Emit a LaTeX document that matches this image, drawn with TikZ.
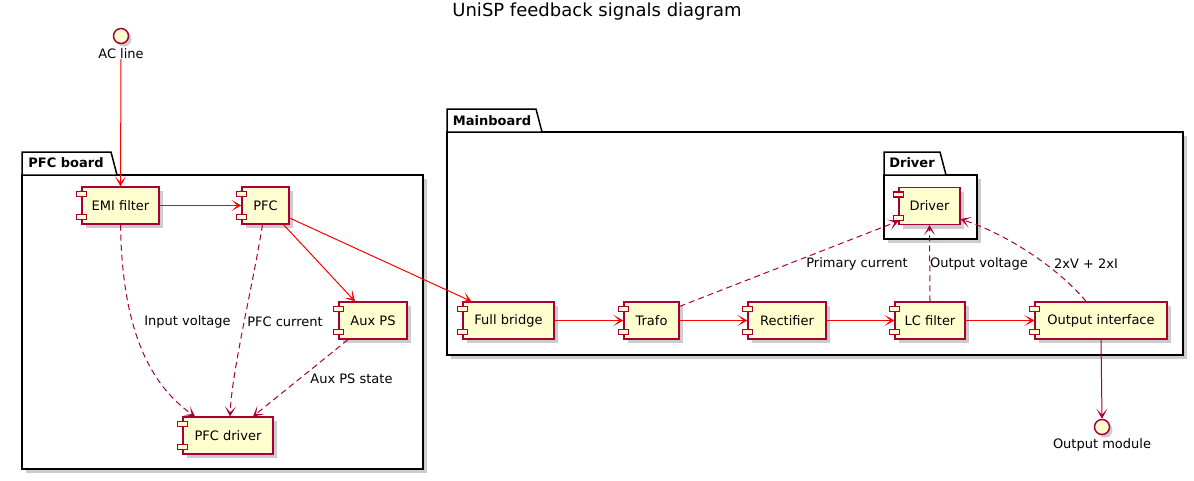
\documentclass[tikz,border=0pt]{standalone}
\usepackage{fontspec}
\setmainfont{DejaVu Sans}
\usetikzlibrary{arrows.meta}
\definecolor{plred}{HTML}{A80036}
\definecolor{plfill}{HTML}{FEFECE}
\definecolor{arrred}{HTML}{FF0000}
\tikzset{
 comp/.style={draw=plred, fill=plfill, line width=1.2pt, minimum height=37pt, inner sep=0pt, font=\fontsize{13}{16}\selectfont},
 compsmall/.style={draw=plred, fill=plfill, line width=1.2pt},
 shadowbox/.style={fill=black!20, draw=none},
 pkg/.style={draw=black, line width=1.5pt, fill=white},
 pkglbl/.style={font=\bfseries\fontsize{13}{16}\selectfont, inner sep=0pt},
 lbl/.style={font=\fontsize{13}{16}\selectfont, inner sep=0pt},
 tip/.style={-{Stealth[length=10pt,width=11pt,inset=6pt]}},
 flow/.style={draw=arrred, line width=1pt, tip},
 sig/.style={draw=plred, line width=1pt, dash pattern=on 6pt off 4pt, tip},
 link/.style={draw=plred, line width=1pt, tip},
 iface/.style={circle, draw=plred, fill=plfill, line width=1.5pt, minimum size=15pt, inner sep=0pt},
}
\newcommand{\umlcomp}[5]{%
 \fill[shadowbox] (#2-#4/2+4, #3-18.5+4) rectangle (#2+#4/2+4, #3+18.5+4);
 \node[comp, minimum width=#4pt] (#1) at (#2,#3) {#5};
 \draw[compsmall] ([xshift=-5pt,yshift=-5pt]#1.north west) rectangle ([xshift=5pt,yshift=-10pt]#1.north west);
 \draw[compsmall] ([xshift=-5pt,yshift=5pt]#1.south west) rectangle ([xshift=5pt,yshift=10pt]#1.south west);
}
\begin{document}
\begin{tikzpicture}[x=1pt,y=-1pt]
\useasboundingbox (0,0) rectangle (1194,480);
\fill[white] (0,0) rectangle (1194,480);

\node[font=\fontsize{18}{22}\selectfont, inner sep=0pt] (title) at (597,12) {UniSP feedback signals diagram};

% PFC board package
\fill[black!20] (26,179) rectangle (427,473);
\draw[pkg] (22,175) rectangle (423,469);
\draw[pkg] (22,175) -- (22,152) -- (111,152) -- (117,175) -- cycle;
\node[pkglbl] (pfcboardlbl) at (66,163) {PFC board};

% Mainboard package
\fill[black!20] (451,136) rectangle (1187,359);
\draw[pkg] (447,132) rectangle (1183,355);
\draw[pkg] (447,132) -- (447,109) -- (536,109) -- (542,132) -- cycle;
\node[pkglbl] (mainboardlbl) at (492,121) {Mainboard};

% Driver package
\fill[black!20] (888,179) rectangle (981,243);
\draw[pkg] (884,175) rectangle (977,239);
\draw[pkg] (884,175) -- (884,152) -- (940,152) -- (946,175) -- cycle;
\node[pkglbl] (driverpkglbl) at (912,163) {Driver};

% interfaces
\fill[black!20] (124,39) circle (7.5);
\node[iface] (acline) at (121,36) {};
\node[lbl] (aclinelbl) at (121,54) {AC line};
\fill[black!20] (1105,430) circle (7.5);
\node[iface] (outmod) at (1102,427) {};
\node[lbl] (outmodlbl) at (1102,445) {Output module};

% components
\umlcomp{emi}{120.5}{205.5}{77}{EMI filter}
\umlcomp{pfc}{265.5}{205.5}{47}{PFC}
\umlcomp{aux}{373}{320.5}{68}{Aux PS}
\umlcomp{pfcdrv}{228}{435.5}{90}{PFC driver}
\umlcomp{fb}{508.5}{320.5}{91}{Full bridge}
\umlcomp{trafo}{651.5}{320.5}{55}{Trafo}
\umlcomp{rect}{787}{320.5}{78}{Rectifier}
\umlcomp{lc}{930}{320.5}{70}{LC filter}
\umlcomp{outif}{1101}{320.5}{132}{Output interface}
\umlcomp{drv}{929.5}{206}{61}{Driver}

% power flow
\draw[flow] (aclinelbl.south) -- (emi.north);
\draw[flow] (emi.east) -- (pfc.west);
\draw[flow] ([xshift=18pt]pfc.south) -- ([xshift=-18pt]aux.north);
\draw[flow] ([yshift=-12.5pt]pfc.east) -- ([xshift=-37pt]fb.north);
\draw[flow] (fb.east) -- (trafo.west);
\draw[flow] (trafo.east) -- (rect.west);
\draw[flow] (rect.east) -- (lc.west);
\draw[flow] (lc.east) -- (outif.west);
\draw[link] (outif.south) -- (outmod.north);

% signals
\draw[sig] (emi.south) .. controls (122,330) and (150,385) .. ([xshift=-33pt]pfcdrv.north);
\draw[sig] ([xshift=-3pt]pfc.south) .. controls (252,290) and (232,370) .. ([xshift=2pt]pfcdrv.north);
\draw[sig] ([xshift=-25pt]aux.south) -- ([xshift=25pt]pfcdrv.north);
\draw[sig] ([yshift=-5pt]trafo.north east) -- ([yshift=4pt]drv.south west);
\draw[sig] (lc.north) -- (drv.south);
\draw[sig] ([xshift=-15pt]outif.north) .. controls (1062,272) and (1012,236) .. ([yshift=6pt]drv.south east);

% labels
\node[lbl] (l1) at (187.5,322) {Input voltage};
\node[lbl] (l2) at (285,322) {PFC current};
\node[lbl] (l3) at (351.5,379) {Aux PS state};
\node[lbl] (l4) at (857,264) {Primary current};
\node[lbl] (l5) at (979,264) {Output voltage};
\node[lbl] (l6) at (1086,264) {2xV + 2xI};
\end{tikzpicture}
\end{document}
